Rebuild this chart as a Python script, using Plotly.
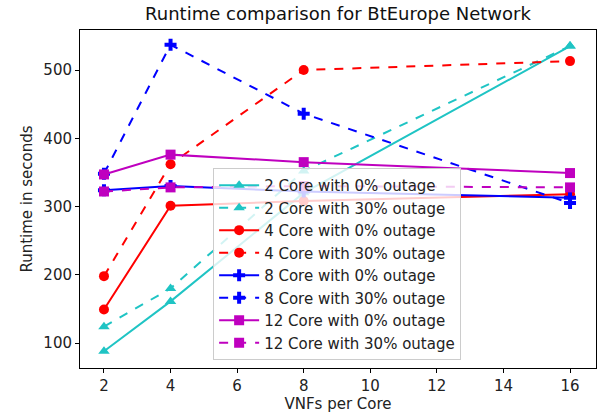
import plotly.graph_objects as go

vnfs = [2, 4, 8, 16]

core2_0 = [88, 161, 320, 535]
core2_30 = [124, 180, 352, 535]
core4_0 = [149, 301, 308, 318]
core4_30 = [198, 362, 500, 513]
core8_0 = [324, 330, 322, 313]
core8_30 = [348, 537, 436, 305]
core12_0 = [347, 376, 365, 349]
core12_30 = [322, 328, 330, 328]

series = [
    ("2 Core with 0% outage", core2_0, "#1fc4c4", "solid", "triangle-up"),
    ("2 Core with 30% outage", core2_30, "#1fc4c4", "dash", "triangle-up"),
    ("4 Core with 0% outage", core4_0, "#ff0000", "solid", "circle"),
    ("4 Core with 30% outage", core4_30, "#ff0000", "dash", "circle"),
    ("8 Core with 0% outage", core8_0, "#0000ff", "solid", "cross"),
    ("8 Core with 30% outage", core8_30, "#0000ff", "dash", "cross"),
    ("12 Core with 0% outage", core12_0, "#bf00bf", "solid", "square"),
    ("12 Core with 30% outage", core12_30, "#bf00bf", "dash", "square"),
]

fig = go.Figure()
for name, vals, color, dash, sym in series:
    fig.add_trace(go.Scatter(
        x=vnfs, y=vals, name=name, mode="lines+markers",
        line=dict(color=color, width=2, dash=dash),
        marker=dict(symbol=sym, size=10, color=color),
    ))

font = "DejaVu Sans"
fig.update_layout(
    width=603, height=420,
    margin=dict(l=80, r=7, t=30, b=52),
    paper_bgcolor="white", plot_bgcolor="white",
    font=dict(family=font, size=15, color="#222"),
    title=dict(text="Runtime comparison for BtEurope Network", x=0.5, xref="paper",
               xanchor="center", y=1 - 14 / 420, yref="container", yanchor="middle",
               font=dict(size=18, color="#111")),
    xaxis=dict(range=[1.28, 16.78], tickvals=[2, 4, 6, 8, 10, 12, 14, 16],
               showline=True, linecolor="black", linewidth=1, mirror=True,
               ticks="outside", ticklen=4, tickcolor="black", showgrid=False, zeroline=False,
               tickfont=dict(size=15),
               title=dict(text="VNFs per Core", font=dict(size=15), standoff=3)),
    yaxis=dict(range=[63.4, 558.6], tickvals=[100, 200, 300, 400, 500],
               showline=True, linecolor="black", linewidth=1, mirror=True,
               ticks="outside", ticklen=4, tickcolor="black", showgrid=False, zeroline=False,
               tickfont=dict(size=15),
               title=dict(text="Runtime in seconds", font=dict(size=15), standoff=7)),
    legend=dict(x=0.258, y=0.592, xanchor="left", yanchor="top",
                bgcolor="rgba(255,255,255,0.8)", bordercolor="#cccccc", borderwidth=1,
                font=dict(size=15, color="#222"), itemwidth=40, tracegroupgap=0),
    showlegend=True,
)

fig.write_html("out.html")
